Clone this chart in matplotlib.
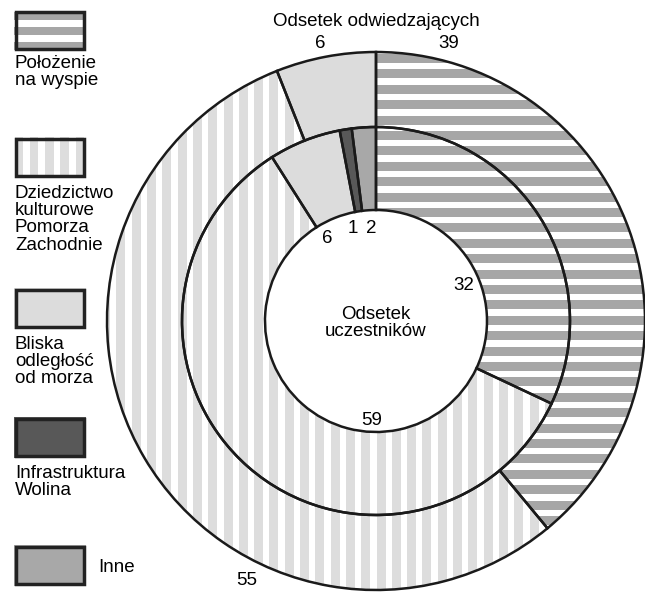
import numpy as np
import matplotlib.pyplot as plt
from matplotlib.patches import Rectangle

plt.rcParams['font.family'] = ['Liberation Sans', 'DejaVu Sans']

# categories (legend order)
categories = ['Położenie\nna wyspie',
              'Dziedzictwo\nkulturowe\nPomorza\nZachodnie',
              'Bliska\nodległość\nod morza',
              'Infrastruktura\nWolina',
              'Inne']
# outer ring: share of visitors (first three categories)
visitors = [39, 55, 6]
# inner ring: share of participants
participants = [32, 59, 6, 1, 2]
outer_title = 'Odsetek odwiedzających'
inner_title = ['Odsetek', 'uczestników']

# canvas in pixels, y measured from the top
W, H = 645, 593
CX, CY = 376, 321
R_OUT, R_MID, R_HOLE = 269, 194, 111

fills = ['white', 'white', '#dcdcdc', '#585858', '#a8a8a8']
STRIPE_H = '#a6a6a6'
STRIPE_V = '#dddddd'
LINE = '#1a1a1a'
FS = 13.5

fig = plt.figure(figsize=(W / 100, H / 100), dpi=100)
ax = fig.add_axes([0, 0, 1, 1])


def Y(y):
    return H - y


def hstripes(clip, y0, y1, start, period=15.4, band=9.0, color=STRIPE_H):
    y = start - period * np.ceil((start - y0) / period)
    while y < y1:
        r = Rectangle((0, Y(y + band)), W, band, facecolor=color, linewidth=0, zorder=2)
        ax.add_patch(r)
        r.set_clip_path(clip)
        y += period


def vstripes(clip, x0, x1, start, period=15.3, band=9.0, color=STRIPE_V):
    x = start - period * np.ceil((start - x0) / period)
    while x < x1:
        r = Rectangle((x, 0), band, H, facecolor=color, linewidth=0, zorder=2)
        ax.add_patch(r)
        r.set_clip_path(clip)
        x += period


def ring(values, radius, width):
    wedges, _ = ax.pie(values, radius=radius, center=(CX, Y(CY)), startangle=90,
                       counterclock=False, colors=fills[:len(values)],
                       wedgeprops=dict(width=width, linewidth=0, zorder=1))
    ax.pie(values, radius=radius, center=(CX, Y(CY)), startangle=90,
           counterclock=False,
           wedgeprops=dict(width=width, fill=False, edgecolor=LINE,
                           linewidth=1.8, zorder=3))
    # stripe textures for the first two categories
    hstripes(wedges[0], 0, H, 54)
    vstripes(wedges[1], 0, W, 131.7)
    return wedges


ring(visitors, R_OUT, R_OUT - R_MID)
ring(participants, R_MID, R_MID - R_HOLE)

# value labels
outer_pos = [(449, 48), (247, 585), (320, 48)]
inner_pos = [(464, 290), (372, 425), (327, 243), (353, 233), (371, 233)]
for v, (x, y) in zip(visitors, outer_pos):
    ax.text(x, Y(y), str(v), ha='center', va='baseline', fontsize=FS)
for v, (x, y) in zip(participants, inner_pos):
    ax.text(x, Y(y), str(v), ha='center', va='baseline', fontsize=FS)

ax.text(376, Y(26), outer_title, ha='center', va='baseline', fontsize=FS)
for i, line in enumerate(inner_title):
    ax.text(376, Y(319 + 17 * i), line, ha='center', va='baseline', fontsize=FS)

# legend
box_tops = [10, 137, 288, 417, 545]
text_base = [68, 198, 349, 478, 572]
BX, BW, BH = 14, 72, 41
for i, (name, top) in enumerate(zip(categories, box_tops)):
    box = Rectangle((BX, Y(top + BH)), BW, BH, facecolor=fills[i], linewidth=0, zorder=1)
    ax.add_patch(box)
    if i == 0:
        hstripes(box, top, top + BH, top + 2, period=15, band=8)
    elif i == 1:
        vstripes(box, BX, BX + BW, BX + 0.5, period=15.3, band=8.5)
    ax.add_patch(Rectangle((BX + 1.7, Y(top + BH - 1.7)), BW - 3.4, BH - 3.4,
                           fill=False, edgecolor='#222222', linewidth=2.5, zorder=3))
    if name == 'Inne':
        ax.text(98, Y(text_base[i]), name, ha='left', va='baseline', fontsize=FS)
    else:
        for j, line in enumerate(name.split('\n')):
            ax.text(15, Y(text_base[i] + 17.2 * j), line, ha='left', va='baseline', fontsize=FS)

ax.set_xlim(0, W)
ax.set_ylim(0, H)
ax.axis('off')
fig.savefig('out.png', dpi=100, facecolor='white')
